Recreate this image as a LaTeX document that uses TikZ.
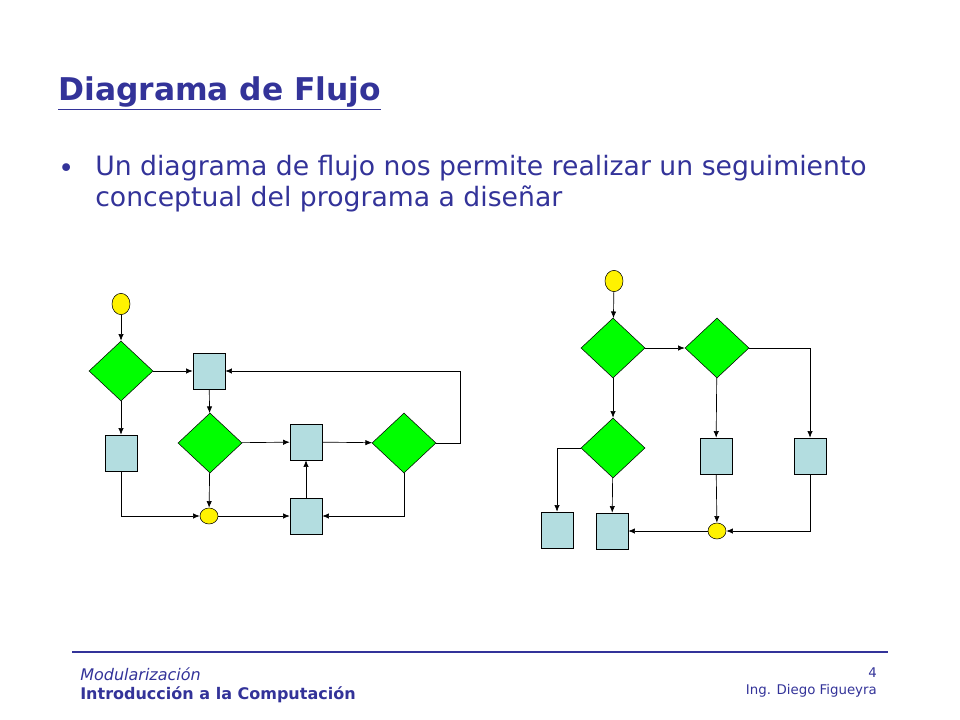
\documentclass[tikz,border=0pt]{standalone}
\usepackage{fontspec}
\setmainfont{DejaVu Sans}
\usetikzlibrary{arrows.meta,shapes.geometric}
\definecolor{navy}{RGB}{51,51,153}
\definecolor{boxblue}{RGB}{179,221,224}
\tikzset{
  dec/.style={diamond,draw,fill={rgb,255:red,0;green,255;blue,0},inner sep=0pt,minimum width=48pt,minimum height=45pt,aspect=1.07},
  proc/.style={rectangle,draw,fill=boxblue,inner sep=0pt,minimum width=24pt,minimum height=27pt},
  term/.style={ellipse,draw,fill=yellow,inner sep=0pt,minimum width=13.5pt,minimum height=16pt},
  stop/.style={ellipse,draw,fill=yellow,inner sep=0pt,minimum width=13.5pt,minimum height=12pt},
  flow/.style={-{Latex[length=5pt,width=4pt]},line width=0.5pt}
}
\begin{document}
\begin{tikzpicture}[x=0.75pt,y=0.75pt,yscale=-1]
  \useasboundingbox (0,0) rectangle (960,720);

  % title and bullet
  \node [anchor=base west,text=navy,font=\fontsize{23.5}{28}\selectfont\bfseries,inner sep=0pt] (title) at (58,101) {\underline{Diagrama de Flujo}};
  \node [anchor=base west,text=navy,font=\fontsize{20}{24}\selectfont,inner sep=0pt] (dot) at (58,178) {•};
  \node [anchor=north west,text=navy,font=\fontsize{20}{23.5}\selectfont,align=left,inner sep=0pt] (body) at (95,155)
    {Un diagrama de flujo nos permite realizar un seguimiento\\conceptual del programa a diseñar};

  % left diagram
  \node [term] (s1) at (121,304) {};
  \node [dec] (d1) at (121,371) {};
  \node [proc] (b1) at (209,371) {};
  \node [proc] (b2) at (121,453) {};
  \node [dec] (d2) at (210,443) {};
  \node [proc] (b3) at (306,442) {};
  \node [dec] (d3) at (404,443) {};
  \node [proc] (b4) at (306,516) {};
  \node [stop] (e1) at (209,516) {};
  \coordinate (c1) at (460,443);
  \coordinate (c2) at (460,371);

  \draw [flow] (s1) -- (d1);
  \draw [flow] (d1) -- (b1);
  \draw [flow] (d1) -- (b2);
  \draw [flow] (b1) -- (d2);
  \draw [flow] (d2) -- (b3);
  \draw [flow] (b3) -- (d3);
  \draw [flow] (d3.east) -- (c1) -- (c2) -- (b1.east);
  \draw [flow] (d2) -- (e1);
  \draw [flow] (b2.south) |- (e1.west);
  \draw [flow] (e1) -- (b4);
  \draw [flow] (b4) -- (b3);
  \draw [flow] (d3.south) |- (b4.east);

  % right diagram
  \node [term] (s2) at (614,281) {};
  \node [dec] (d4) at (613,348) {};
  \node [dec] (d5) at (717,348) {};
  \node [dec] (d6) at (613,448) {};
  \node [proc] (b5) at (716,456) {};
  \node [proc] (b6) at (810,456) {};
  \node [proc] (b7) at (557,530) {};
  \node [proc] (b8) at (612,531) {};
  \node [stop] (e2) at (717,531) {};

  \draw [flow] (s2) -- (d4);
  \draw [flow] (d4) -- (d5);
  \draw [flow] (d4) -- (d6);
  \draw [flow] (d5.east) -| (b6.north);
  \draw [flow] (d5) -- (b5);
  \draw [flow] (d6.west) -| (b7.north);
  \draw [flow] (d6) -- (b8);
  \draw [flow] (b5) -- (e2);
  \draw [flow] (b6.south) |- (e2.east);
  \draw [flow] (e2) -- (b8);

  % footer
  \draw [navy,line width=2pt] (72,652) -- (888,652);
  \node [anchor=base west,text=navy,font=\fontsize{12}{14}\selectfont\itshape,inner sep=0pt] (f1) at (80,680) {Modularización};
  \node [anchor=base west,text=navy,font=\fontsize{12}{14}\selectfont\bfseries,inner sep=0pt] (f2) at (80,699) {Introducción a la Computación};
  \node [anchor=base east,text=navy,font=\fontsize{10}{12}\selectfont,inner sep=0pt] (f3) at (877,677) {4};
  \node [anchor=base east,text=navy,font=\fontsize{10}{12}\selectfont,inner sep=0pt] (f4) at (877,694) {Ing. Diego Figueyra};
\end{tikzpicture}
\end{document}
